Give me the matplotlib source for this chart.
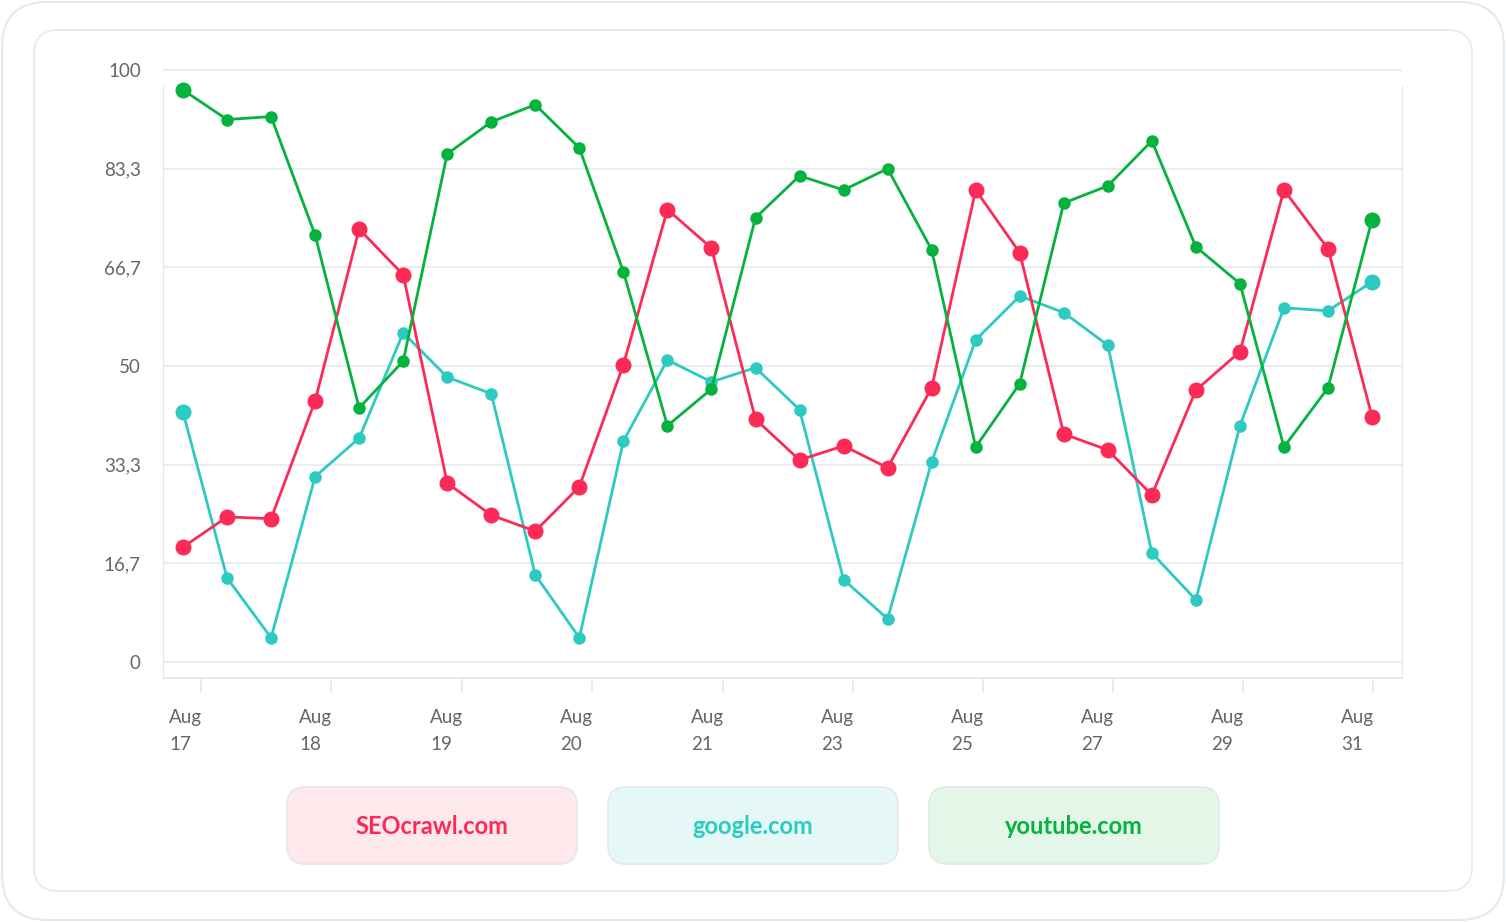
import matplotlib.pyplot as plt
from matplotlib.patches import FancyBboxPatch

plt.rcParams['font.family'] = ['Lato', 'DejaVu Sans']

seocrawl = [19.4, 24.5, 24.2, 44.1, 73.1, 65.4, 30.2, 24.8, 22.1, 29.6, 50.2, 76.4, 69.9, 41.0,
            34.1, 36.5, 32.8, 46.3, 79.7, 69.1, 38.5, 35.8, 28.2, 45.9, 52.4, 79.7, 69.8, 41.4]
google = [42.2, 14.2, 4.1, 31.3, 37.8, 55.6, 48.1, 45.3, 14.7, 4.1, 37.3, 51.0, 47.3, 49.7,
          42.6, 13.9, 7.3, 33.8, 54.4, 61.8, 59.0, 53.5, 18.4, 10.5, 39.9, 59.8, 59.3, 64.2]
youtube = [96.6, 91.6, 92.1, 72.1, 42.9, 50.8, 85.8, 91.2, 94.1, 86.8, 65.9, 39.9, 46.1, 75.0,
           82.1, 79.7, 83.3, 69.6, 36.3, 47.0, 77.5, 80.4, 88.0, 70.1, 63.9, 36.3, 46.3, 74.7]
names = ['SEOcrawl.com', 'google.com', 'youtube.com']
colors = ['#fc2a57', '#2ccac1', '#05b23e']
fills = ['#fde9ec', '#e6f8f6', '#e3f6e8']

tick_pos = [0.41, 3.36, 6.34, 9.29, 12.26, 15.21, 18.17, 21.12, 24.07, 27.02]
tick_days = ['17', '18', '19', '20', '21', '23', '25', '27', '29', '31']
y_ticks = [0, 16.7, 33.3, 50, 66.7, 83.3, 100]
y_labels = ['0', '16,7', '33,3', '50', '66,7', '83,3', '100']

fig = plt.figure(figsize=(15.06, 9.22), dpi=100)

# outer frame and inner card (behind the axes)
fig.patches.append(FancyBboxPatch((2 / 1506, 2 / 922), 1502 / 1506, 1 - 4 / 922,
                                  boxstyle='round,pad=0,rounding_size=0.03',
                                  transform=fig.transFigure, fc='white', ec='#e3e9ef', lw=1.5,
                                  mutation_aspect=1506 / 922, zorder=-2))
fig.patches.append(FancyBboxPatch((34 / 1506, 1 - 891 / 922), 1438 / 1506, 861 / 922,
                                  boxstyle='round,pad=0,rounding_size=0.016',
                                  transform=fig.transFigure, fc='white', ec='#e6ebf0', lw=1.3,
                                  mutation_aspect=1506 / 922, zorder=-1))

ax = fig.add_axes([163 / 1506, 1 - 678 / 922, 1239 / 1506, 610 / 922])
ax.set_facecolor('none')
xs = list(range(len(seocrawl)))

ax.plot(xs, google, color=colors[1], lw=2, marker='o', ms=8, zorder=3)
ax.plot([xs[0], xs[-1]], [google[0], google[-1]], ls='none', marker='o', ms=10.5, color=colors[1], zorder=3)
ax.plot(xs, seocrawl, color=colors[0], lw=2, marker='o', ms=10.5, zorder=4)
ax.plot(xs, youtube, color=colors[2], lw=2, marker='o', ms=8, zorder=5)
ax.plot([xs[0], xs[-1]], [youtube[0], youtube[-1]], ls='none', marker='o', ms=10.5, color=colors[2], zorder=5)

ax.set_xlim(-0.454, 27.68)
ax.set_ylim(-2.7, 100.3)
ax.set_yticks(y_ticks)
ax.set_yticklabels(y_labels)
ax.grid(axis='y', color='#e6eaee', lw=1.2)
ax.tick_params(axis='y', length=0, pad=16, labelsize=13.5, labelcolor='#666666')
ax.spines['top'].set_visible(False)
for s in ['left', 'right']:
    ax.spines[s].set_color('#e3e8ee')
    ax.spines[s].set_bounds(-2.7, 97.3)
ax.spines['bottom'].set_color('#e3e8ee')
ax.spines['bottom'].set_linewidth(1.2)

ax.set_xticks(tick_pos)
ax.set_xticklabels([''] * len(tick_pos))
ax.tick_params(axis='x', length=10, width=1.2, color='#e3e8ee', direction='out')
for p, d in zip(tick_pos, tick_days):
    ax.annotate('Aug\n' + d, xy=(p, 0), xycoords=('data', 'axes fraction'),
                xytext=(-23, -22), textcoords='offset points', ha='left', va='top',
                fontsize=13.5, color='#666666', linespacing=1.75)

# legend boxes
for i, (n, c, f) in enumerate(zip(names, colors, fills)):
    x0 = 287 + i * 321
    fig.patches.append(FancyBboxPatch((x0 / 1506, 1 - 864 / 922), 290 / 1506, 77 / 922,
                                      boxstyle='round,pad=0,rounding_size=0.012',
                                      transform=fig.transFigure, fc=f, ec='#e3e8ee', lw=1.2,
                                      mutation_aspect=1506 / 922))
    fig.text((x0 + 145) / 1506, 1 - 826 / 922, n, ha='center', va='center',
             fontsize=17, fontweight='bold', color=c)

fig.savefig('out.png', dpi=100)
